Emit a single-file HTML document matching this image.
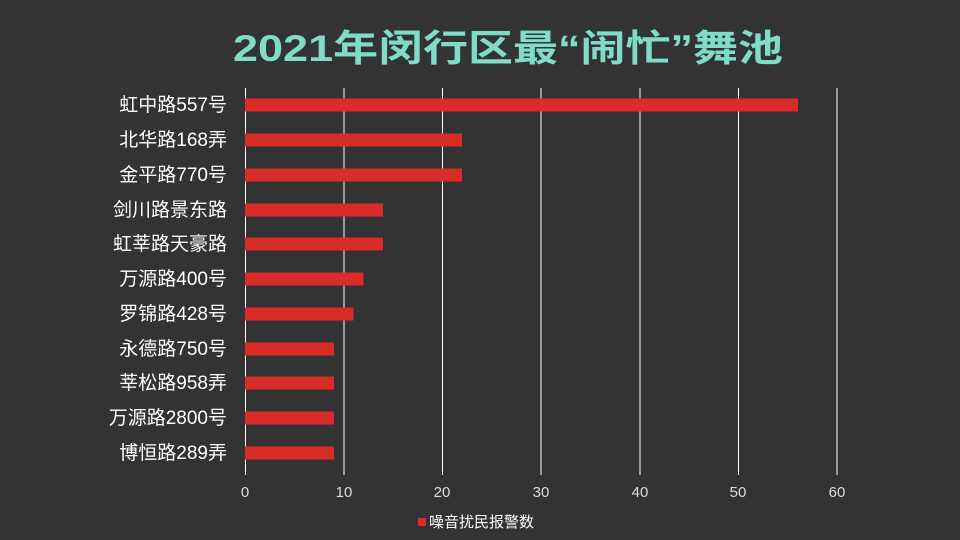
<!DOCTYPE html>
<html><head><meta charset="utf-8"><style>
html,body{margin:0;padding:0;background:#333333;}
svg{display:block;}
</style></head><body>
<svg width="960" height="540" xmlns="http://www.w3.org/2000/svg" font-family="Liberation Sans, Noto Sans CJK SC, sans-serif">
<rect width="960" height="540" fill="#333333"/>
<text x="233" y="61" font-size="37" font-weight="bold" fill="#7fdcc8" textLength="550" lengthAdjust="spacingAndGlyphs" font-family="Liberation Sans, Noto Sans CJK SC, sans-serif">2021年闵行区最“闹忙”舞池</text>
<g stroke="#ffffff" stroke-width="1">
<line x1="245.5" y1="88" x2="245.5" y2="475"/>
<line x1="344" y1="88" x2="344" y2="475"/>
<line x1="442.5" y1="88" x2="442.5" y2="475"/>
<line x1="541" y1="88" x2="541" y2="475"/>
<line x1="640" y1="88" x2="640" y2="475"/>
<line x1="738.5" y1="88" x2="738.5" y2="475"/>
<line x1="837" y1="88" x2="837" y2="475"/>
</g>
<g fill="#d92b27">
<rect x="245" y="98.5" width="553" height="13"/>
<rect x="245" y="133.5" width="217" height="13"/>
<rect x="245" y="168.5" width="217" height="13"/>
<rect x="245" y="203.5" width="138" height="13"/>
<rect x="245" y="237.5" width="138" height="13"/>
<rect x="245" y="272.5" width="118.5" height="13"/>
<rect x="245" y="307.5" width="108.5" height="13"/>
<rect x="245" y="342.5" width="89" height="13"/>
<rect x="245" y="376.5" width="89" height="13"/>
<rect x="245" y="411.5" width="89" height="13"/>
<rect x="245" y="446.5" width="89" height="13"/>
</g>
<g fill="#ffffff" font-size="19" text-anchor="end">
<text x="227" y="111">虹中路557号</text>
<text x="227" y="146">北华路168弄</text>
<text x="227" y="181">金平路770号</text>
<text x="227" y="216">剑川路景东路</text>
<text x="227" y="250">虹莘路天豪路</text>
<text x="227" y="285">万源路400号</text>
<text x="227" y="320">罗锦路428号</text>
<text x="227" y="355">永德路750号</text>
<text x="227" y="389">莘松路958弄</text>
<text x="227" y="424">万源路2800号</text>
<text x="227" y="459">博恒路289弄</text>
</g>
<g fill="#dddddd" font-size="15" text-anchor="middle">
<text x="245" y="497">0</text>
<text x="344" y="497">10</text>
<text x="442" y="497">20</text>
<text x="541" y="497">30</text>
<text x="640" y="497">40</text>
<text x="738" y="497">50</text>
<text x="837" y="497">60</text>
</g>
<rect x="418" y="518" width="8" height="8" fill="#d92b27"/>
<text x="429" y="527" fill="#ffffff" font-size="15">噪音扰民报警数</text>
</svg>
</body></html>
